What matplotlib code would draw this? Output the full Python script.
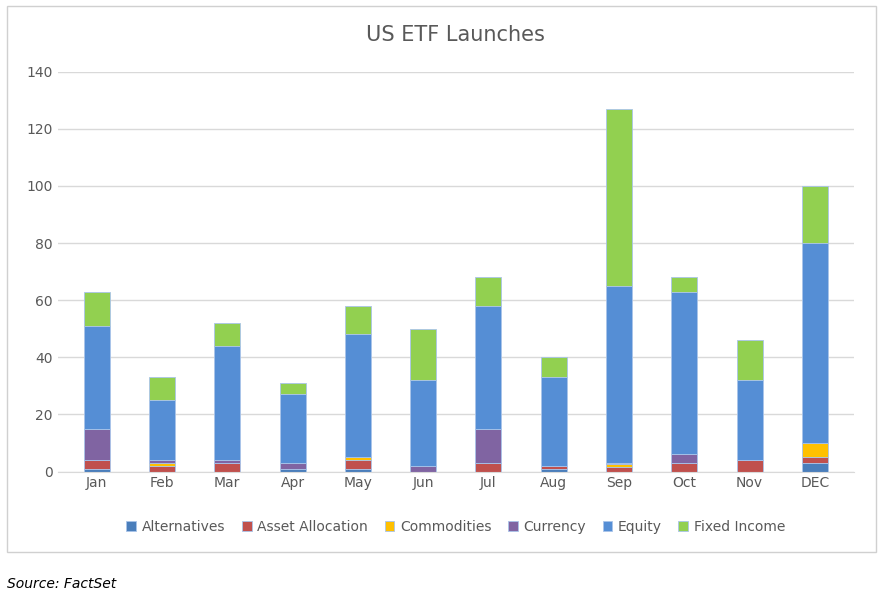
import matplotlib
matplotlib.use("Agg")
import matplotlib.pyplot as plt
import numpy as np

months = ["Jan","Feb","Mar","Apr","May","Jun","Jul","Aug","Sep","Oct","Nov","DEC"]
alternatives   = [1, 0, 0, 1, 1, 0, 0, 1, 0, 0, 0, 3]
asset_alloc    = [3, 2, 3, 0, 3, 0, 3, 1, 1.5, 3, 4, 2]
commodities    = [0, 1, 0, 0, 1, 0, 0, 0, 1, 0, 0, 5]
currency       = [11, 1, 1, 2, 0, 2, 12, 0, 0.5, 3, 0, 0]
equity         = [36, 21, 40, 24, 43, 30, 43, 31, 62, 57, 28, 70]
fixed_income   = [12, 8, 8, 4, 10, 18, 10, 7, 62, 5, 14, 20]

series = [("Alternatives", alternatives, "#4a7ebb"),
          ("Asset Allocation", asset_alloc, "#c0504d"),
          ("Commodities", commodities, "#ffc000"),
          ("Currency", currency, "#8064a2"),
          ("Equity", equity, "#558ed5"),
          ("Fixed Income", fixed_income, "#92d050")]

fig = plt.figure(figsize=(8.85, 5.97), dpi=100)
fig.patches.append(plt.Rectangle((0.008, 0.075), 0.982, 0.915, transform=fig.transFigure,
                                 fill=False, edgecolor="#d0d0d0", lw=1))
ax = fig.add_axes([0.065, 0.21, 0.9, 0.67])
x = np.arange(len(months))
bottom = np.zeros(len(months))
for name, vals, c in series:
    v = np.array(vals, dtype=float)
    ax.bar(x, v, 0.4, bottom=bottom, color=c, label=name, edgecolor="#a9c4ea", linewidth=0.6)
    bottom += v
ax.set_ylim(0, 140)
ax.set_xlim(-0.6, 11.6)
ax.set_yticks(range(0, 141, 20))
ax.set_xticks(x)
ax.set_xticklabels(months)
ax.grid(axis="y", color="#d9d9d9", lw=1)
ax.set_axisbelow(True)
for s in ["top", "right", "left"]:
    ax.spines[s].set_visible(False)
ax.spines["bottom"].set_color("#d9d9d9")
ax.tick_params(length=0, colors="#595959", labelsize=10)
ax.set_title("US ETF Launches", fontsize=15, color="#595959", pad=22)
ax.legend(loc="upper center", bbox_to_anchor=(0.5, -0.09), ncol=6, frameon=False,
          fontsize=10, handlelength=0.7, handleheight=0.7, columnspacing=1.2,
          handletextpad=0.4, labelcolor="#595959")
fig.text(0.008, 0.015, "Source: FactSet", fontsize=10, style="italic")
fig.savefig("out.png", dpi=100)
